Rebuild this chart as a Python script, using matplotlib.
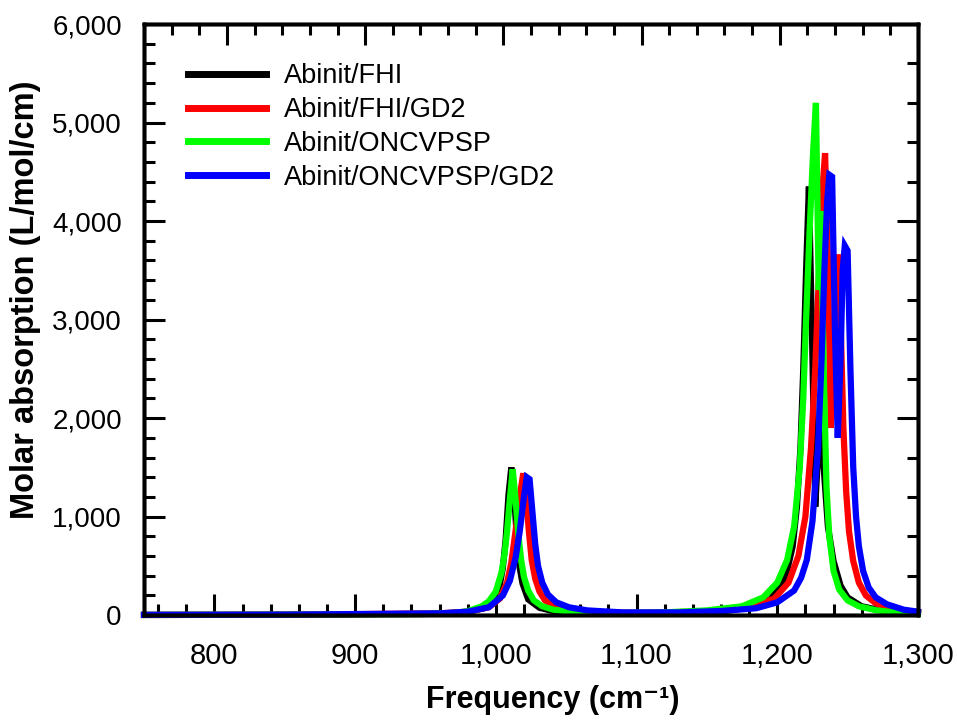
import numpy as np
import matplotlib
matplotlib.use("Agg")
import matplotlib.pyplot as plt
from matplotlib.ticker import MultipleLocator, FuncFormatter

# spectra (frequency in cm-1, molar absorption in L/mol/cm)
fhi_x = [750, 850, 950, 970, 981, 991, 997, 1001, 1003, 1005, 1007, 1009, 1011, 1013, 1015,
         1017, 1019, 1023, 1031, 1041, 1060, 1090, 1130, 1160, 1180, 1195, 1202, 1207, 1211,
         1214, 1216.5, 1218.5, 1220.5, 1222.5, 1224.5, 1227, 1230, 1233, 1236, 1240, 1245,
         1250, 1260, 1275, 1300]
fhi_y = [2, 4, 12, 22, 35, 70, 140, 250, 320, 480, 770, 1220, 1500, 1220, 770,
         480, 320, 160, 75, 40, 25, 18, 25, 38, 75, 160, 280, 450, 700,
         1100, 1700, 2500, 3500, 4350, 3000, 1100, 1900, 1500, 900, 550, 300,
         180, 90, 45, 15]

fhi_gd2_x = [750, 850, 960, 980, 995, 1003, 1008, 1011, 1014, 1017, 1019.5, 1021.5, 1023.5,
             1025.5, 1028, 1031, 1035, 1042, 1052, 1070, 1100, 1150, 1180, 1198, 1208, 1215,
             1220, 1224, 1227, 1229.5, 1231.5, 1234, 1236, 1238, 1240.5, 1243, 1245, 1247,
             1249, 1251, 1254, 1258, 1263, 1270, 1280, 1300]
fhi_gd2_y = [2, 4, 18, 35, 80, 170, 330, 530, 850, 1200, 1440, 1200, 850,
             560, 370, 240, 150, 85, 50, 30, 22, 38, 75, 170, 330, 600,
             1000, 1700, 2500, 3400, 4200, 4690, 3600, 1900, 2600, 3660, 3000, 1900,
             1250, 850, 550, 330, 200, 120, 65, 30]

oncv_x = [750, 850, 950, 970, 980, 990, 995, 1000, 1004, 1006, 1008, 1010, 1012, 1014, 1016,
          1018, 1020, 1023, 1027, 1033, 1041, 1056, 1080, 1120, 1150, 1175, 1190, 1200, 1207,
          1212, 1216, 1218.5, 1220.5, 1223, 1225.5, 1227.5, 1229.5, 1231, 1233, 1235, 1237,
          1240, 1244, 1250, 1258, 1270, 1285, 1300]
oncv_y = [2, 4, 12, 22, 40, 90, 140, 240, 430, 600, 850, 1180, 1480, 1180, 820,
          560, 390, 250, 150, 90, 55, 30, 22, 28, 48, 90, 180, 330, 560,
          900, 1500, 2200, 3000, 3900, 4700, 5200, 3300, 4100, 2500, 1300, 800,
          450, 260, 150, 90, 50, 25, 12]

oncv_gd2_x = [750, 850, 960, 980, 995, 1005, 1010, 1014, 1017, 1020, 1022, 1024, 1026, 1028,
              1030, 1033, 1037, 1043, 1052, 1065, 1090, 1130, 1160, 1185, 1200, 1212, 1217,
              1221, 1225, 1229, 1231.5, 1233.5, 1235.5, 1237, 1239, 1241, 1243, 1245, 1246.5,
              1248, 1250, 1252, 1254, 1256, 1258, 1261, 1265, 1270, 1278, 1290, 1300]
oncv_gd2_y = [3, 5, 18, 35, 80, 200, 350, 580, 850, 1200, 1400, 1380, 1050, 720,
              500, 330, 210, 130, 80, 48, 28, 28, 42, 70, 130, 250, 380,
              560, 950, 1700, 2600, 3500, 4200, 4470, 4450, 2900, 1800, 2600, 3500,
              3750, 3700, 2500, 1500, 1000, 700, 450, 280, 180, 110, 55, 35]

labels = ["Abinit/FHI", "Abinit/FHI/GD2", "Abinit/ONCVPSP", "Abinit/ONCVPSP/GD2"]
colors = ["#000000", "#ff0000", "#00ff00", "#0000ff"]

plt.rcParams['font.family'] = ['Liberation Sans', 'DejaVu Sans']

fig = plt.figure(figsize=(9.57, 7.22), dpi=100)
ax = fig.add_axes([0.1505, 0.148, 0.8087, 0.8187])

series = [(fhi_x, fhi_y), (fhi_gd2_x, fhi_gd2_y), (oncv_x, oncv_y), (oncv_gd2_x, oncv_gd2_y)]
for (xs, ys), lab, c in zip(series, labels, colors):
    ax.plot(xs, ys, color=c, lw=4.5, label=lab, solid_joinstyle='miter', clip_on=False)

ax.set_xlim(750, 1300)
ax.set_ylim(0, 6000)

# bottom / left ticks
ax.xaxis.set_major_locator(MultipleLocator(100))
ax.xaxis.set_minor_locator(MultipleLocator(20))
ax.yaxis.set_major_locator(MultipleLocator(1000))
ax.yaxis.set_minor_locator(MultipleLocator(200))
fmt = FuncFormatter(lambda v, p: f"{v:,.0f}")
ax.xaxis.set_major_formatter(fmt)
ax.yaxis.set_major_formatter(fmt)
ax.tick_params(which='major', direction='in', length=15, width=2.2)
ax.tick_params(which='minor', direction='in', length=8, width=2.2)
ax.tick_params(axis='y', labelsize=20, pad=16)
ax.tick_params(axis='x', labelsize=21, pad=19)
for s in ax.spines.values():
    s.set_linewidth(2.5)

# secondary scales drawn on top and right (ticks only)
top = ax.twiny()
top.set_xlim(40, 600)
top.xaxis.set_major_locator(MultipleLocator(100))
top.xaxis.set_minor_locator(MultipleLocator(20))
top.tick_params(which='major', direction='in', length=15, width=2.2, labeltop=False)
top.tick_params(which='minor', direction='in', length=8, width=2.2)
right = ax.twinx()
right.set_ylim(0, 15)
right.yaxis.set_major_locator(MultipleLocator(5))
right.yaxis.set_minor_locator(MultipleLocator(1))
right.tick_params(which='major', direction='in', length=15, width=2.2, labelright=False)
right.tick_params(which='minor', direction='in', length=8, width=2.2)
for a in (top, right):
    for s in a.spines.values():
        s.set_linewidth(2.5)

ax.set_xlabel("Frequency (cm\u207b\u00b9)", fontsize=22, fontweight='bold')
ax.xaxis.set_label_coords(0.528, -0.118)
ax.set_ylabel("Molar absorption (L/mol/cm)", fontsize=23.5, fontweight='bold')
ax.yaxis.set_label_coords(-0.133, 0.533)

leg = ax.legend(loc='upper left', bbox_to_anchor=(0.025, 0.975), frameon=False, fontsize=19.5,
                handlelength=2.9, handletextpad=0.67, labelspacing=0.29)
for h in leg.get_lines():
    h.set_linewidth(5)

fig.savefig("out.png", dpi=100)
